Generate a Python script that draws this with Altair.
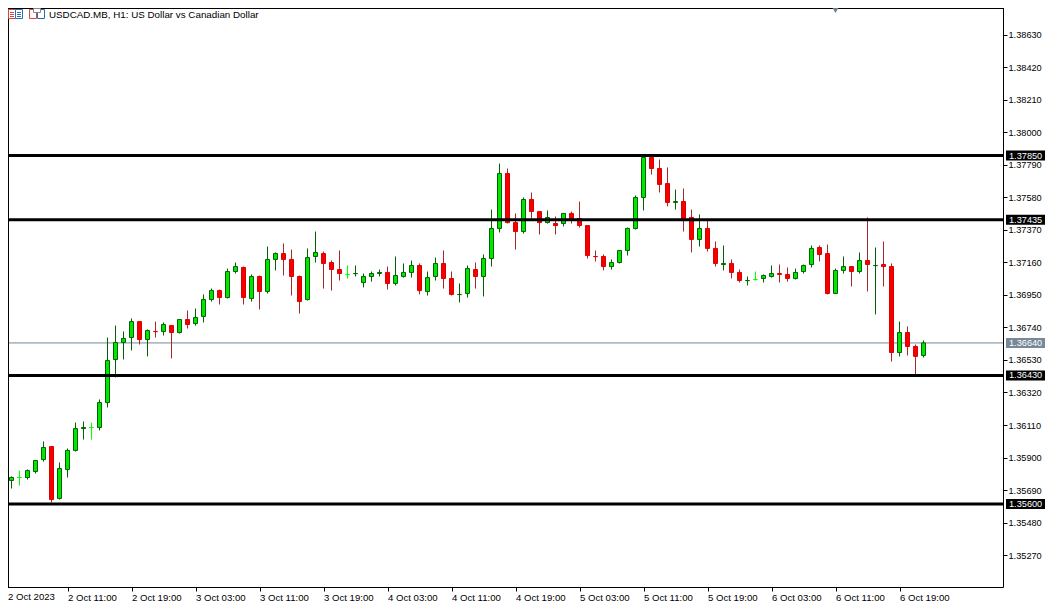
import altair as alt
import pandas as pd

opens = [1.35732,1.35752,1.35771,1.35771,1.35810,1.35887,1.35971,1.35636,1.35823,1.35946,1.36087,1.36094,1.36094,1.36255,1.36533,1.36643,1.36675,1.36778,1.36662,1.36714,
1.36714,1.36752,1.36707,1.36791,1.36765,1.36811,1.36920,1.36978,1.36933,1.37101,1.37127,1.36927,1.37069,1.36972,1.37179,1.37217,1.37179,1.37069,1.36920,1.37198,
1.37217,1.37159,1.37114,1.37082,1.37087,1.37030,1.37069,1.37088,1.37095,1.37024,1.37069,1.37095,1.37140,1.36972,1.37069,1.37153,1.37056,1.36952,1.36959,1.37114,
1.37069,1.37185,1.37379,1.37734,1.37417,1.37359,1.37566,1.37488,1.37417,1.37411,1.37411,1.37476,1.37443,1.37398,1.37198,1.37198,1.37133,1.37159,1.37237,1.37379,
1.37579,1.37837,1.37766,1.37669,1.37547,1.37553,1.37450,1.37308,1.37379,1.37250,1.37146,1.37153,1.37095,1.37042,1.37049,1.37056,1.37069,1.37088,1.37082,1.37056,
1.37101,1.37146,1.37256,1.37217,1.36959,1.37108,1.37133,1.37101,1.37172,1.37139,1.37146,1.37133,1.36578,1.36707,1.36617,1.36559]
highs = [1.35752,1.35778,1.35816,1.35823,1.35881,1.36004,1.35971,1.35868,1.35958,1.36126,1.36133,1.36126,1.36275,1.36675,1.36752,1.36714,1.36798,1.36778,1.36727,1.36778,
1.36772,1.36752,1.36791,1.36849,1.36862,1.36953,1.36991,1.36985,1.37120,1.37159,1.37133,1.37082,1.37075,1.37262,1.37224,1.37282,1.37243,1.37075,1.37250,1.37359,
1.37230,1.37172,1.37237,1.37140,1.37140,1.37088,1.37101,1.37114,1.37133,1.37198,1.37153,1.37172,1.37153,1.37101,1.37191,1.37237,1.37101,1.37024,1.37140,1.37159,
1.37211,1.37501,1.37798,1.37766,1.37476,1.37579,1.37611,1.37488,1.37495,1.37456,1.37476,1.37488,1.37553,1.37398,1.37237,1.37211,1.37179,1.37237,1.37385,1.37592,
1.37850,1.37850,1.37824,1.37773,1.37630,1.37637,1.37501,1.37469,1.37430,1.37295,1.37269,1.37179,1.37114,1.37069,1.37101,1.37082,1.37140,1.37146,1.37127,1.37120,
1.37146,1.37269,1.37269,1.37275,1.37120,1.37198,1.37133,1.37224,1.37450,1.37256,1.37295,1.37153,1.36778,1.36746,1.36630,1.36656]
lows = [1.35726,1.35700,1.35719,1.35758,1.35797,1.35874,1.35610,1.35629,1.35771,1.35939,1.36016,1.36016,1.36075,1.36223,1.36417,1.36533,1.36591,1.36630,1.36553,1.36675,
1.36688,1.36540,1.36701,1.36733,1.36752,1.36772,1.36907,1.36888,1.36927,1.37088,1.36888,1.36907,1.36856,1.36959,1.37108,1.37075,1.36946,1.36830,1.36914,1.37159,
1.36991,1.36978,1.37043,1.37056,1.37069,1.36998,1.37036,1.37069,1.36985,1.37011,1.37062,1.37062,1.36953,1.36946,1.37043,1.36991,1.36946,1.36901,1.36933,1.36991,
1.36940,1.37133,1.37353,1.37411,1.37243,1.37346,1.37443,1.37340,1.37411,1.37340,1.37392,1.37411,1.37385,1.37185,1.37166,1.37108,1.37114,1.37153,1.37204,1.37372,
1.37495,1.37727,1.37611,1.37521,1.37501,1.37359,1.37224,1.37262,1.37230,1.37133,1.37108,1.37056,1.37030,1.37011,1.37043,1.37030,1.37062,1.37030,1.37036,1.37049,
1.37088,1.37127,1.37166,1.36953,1.36959,1.37088,1.37004,1.37088,1.36972,1.36824,1.37004,1.36520,1.36553,1.36559,1.36436,1.36546]
closes = [1.35752,1.35771,1.35771,1.35816,1.35881,1.35965,1.35629,1.35829,1.35946,1.36087,1.36094,1.36094,1.36255,1.36527,1.36643,1.36669,1.36778,1.36662,1.36720,1.36713,
1.36759,1.36707,1.36791,1.36759,1.36804,1.36920,1.36978,1.36933,1.37101,1.37133,1.36933,1.37069,1.36972,1.37179,1.37217,1.37179,1.37069,1.36907,1.37191,1.37224,
1.37153,1.37114,1.37088,1.37082,1.37088,1.37069,1.37088,1.37095,1.37024,1.37075,1.37095,1.37140,1.36978,1.37062,1.37153,1.37056,1.36953,1.36953,1.37120,1.37069,
1.37185,1.37379,1.37734,1.37417,1.37359,1.37566,1.37488,1.37417,1.37450,1.37398,1.37476,1.37443,1.37398,1.37204,1.37197,1.37133,1.37159,1.37237,1.37379,1.37579,
1.37837,1.37766,1.37663,1.37547,1.37553,1.37443,1.37308,1.37379,1.37250,1.37153,1.37153,1.37095,1.37043,1.37043,1.37049,1.37075,1.37088,1.37082,1.37056,1.37095,
1.37140,1.37250,1.37211,1.36959,1.37108,1.37133,1.37101,1.37172,1.37146,1.37140,1.37133,1.36578,1.36707,1.36617,1.36553,1.36640]

y_ticks = [1.38630,1.38420,1.38210,1.38000,1.37790,1.37580,1.37370,1.37160,1.36950,1.36740,1.36530,1.36320,1.36110,1.35900,1.35690,1.35480,1.35270]
x_tick_bars = [8,16,24,32,40,48,56,64,72,80,88,96,104,112]
x_tick_labels = ["2 Oct 11:00","2 Oct 19:00","3 Oct 03:00","3 Oct 11:00","3 Oct 19:00","4 Oct 03:00","4 Oct 11:00","4 Oct 19:00","5 Oct 03:00","5 Oct 11:00","5 Oct 19:00","6 Oct 03:00","6 Oct 11:00","6 Oct 19:00"]
first_label = "2 Oct 2023"
title_text = "USDCAD.MB, H1:  US Dollar vs Canadian Dollar"
levels = [1.37850,1.37435,1.36430,1.35600]
last_price = 1.36640

FONT = "Liberation Sans"
W, H = 1000, 584
GREEN, DKGREEN, LIME = "#00E600", "#006400", "#00FF00"
RED, DKRED, BODYRED = "#F40000", "#A52A2A", "#E00000"

df = pd.DataFrame({"i": range(len(opens)), "o": opens, "h": highs, "l": lows, "c": closes})
df["top"] = df[["o", "c"]].max(axis=1)
df["bot"] = df[["o", "c"]].min(axis=1)
df["dir"] = ["up" if c > o else "down" if c < o else "flat" for o, c in zip(opens, closes)]

x_scale = alt.Scale(domain=[-0.0625, 124.9375], nice=False, zero=False, padding=0)
y_scale = alt.Scale(domain=[1.35064236, 1.3883454], nice=False, zero=False, padding=0)
dirs = ["up", "down", "flat"]
wick_scale = alt.Scale(domain=dirs, range=[DKGREEN, DKRED, LIME])
edge_scale = alt.Scale(domain=dirs, range=[DKGREEN, BODYRED, LIME])
fill_scale = alt.Scale(domain=dirs, range=[GREEN, RED, LIME])

label_map = "{" + ",".join(f"{b}:'{t}'" for b, t in zip(x_tick_bars, x_tick_labels)) + "}"
x_axis = alt.Axis(values=x_tick_bars, labelExpr=f"{label_map}[datum.value]", title=None, grid=False,
                  domain=False, tickColor="black", tickSize=4, labelColor="black", labelFont=FONT,
                  labelFontSize=9.6, labelAlign="left", labelPadding=1, labelOverlap=False,
                  labelBound=False, labelFlush=False)
y_axis = alt.Axis(values=y_ticks, format=".5f", orient="right", title=None, grid=False, domain=False,
                  tickColor="black", tickSize=4, labelColor="black", labelFont=FONT, labelFontSize=9.2,
                  labelPadding=1, labelOverlap=False, labelBound=False, labelFlush=False)

base = alt.Chart(df)
wicks = base.mark_rule(strokeWidth=1).encode(
    x=alt.X("i:Q", scale=x_scale, axis=x_axis),
    y=alt.Y("l:Q", scale=y_scale, axis=y_axis),
    y2="h:Q",
    color=alt.Color("dir:N", scale=wick_scale, legend=None),
)
bodies = base.mark_bar(size=4, strokeWidth=1, orient="vertical").encode(
    x=alt.X("i:Q", scale=x_scale, axis=x_axis),
    y=alt.Y("bot:Q", scale=y_scale, axis=y_axis),
    y2="top:Q",
    fill=alt.Fill("dir:N", scale=fill_scale, legend=None),
    stroke=alt.Stroke("dir:N", scale=edge_scale, legend=None),
)

lv = pd.DataFrame({"p": levels, "t": [f"{v:.5f}" for v in levels]})
last = pd.DataFrame({"p": [last_price], "t": [f"{last_price:.5f}"]})
yenc = alt.Y("p:Q", scale=y_scale, axis=y_axis)

price_line = alt.Chart(last).mark_rule(color="#778899", strokeWidth=1).encode(y=yenc)
level_lines = alt.Chart(lv).mark_rule(color="black", strokeWidth=3).encode(y=yenc)
tags = alt.Chart(lv).mark_rule(color="black", strokeWidth=10).encode(x=alt.value(1003), x2=alt.value(1042), y=yenc)
tag_text = alt.Chart(lv).mark_text(color="white", align="left", baseline="middle", font=FONT, fontSize=9.2).encode(
    x=alt.value(1006), y=yenc, text="t:N")
last_tag = alt.Chart(last).mark_rule(color="#778899", strokeWidth=10).encode(x=alt.value(1003), x2=alt.value(1042), y=yenc)
last_text = alt.Chart(last).mark_text(color="white", align="left", baseline="middle", font=FONT, fontSize=9.2).encode(
    x=alt.value(1006), y=yenc, text="t:N")

first_txt = alt.Chart(pd.DataFrame({"t": [first_label]})).mark_text(
    align="left", baseline="middle", font=FONT, fontSize=9.6, color="black").encode(
    x=alt.value(5), y=alt.value(594), text="t:N")
title_txt = alt.Chart(pd.DataFrame({"t": [title_text]})).mark_text(
    align="left", baseline="middle", font=FONT, fontSize=9.8, color="black").encode(
    x=alt.value(46), y=alt.value(11.5), text="t:N")

one = pd.DataFrame({"a": [0]})
def box(x0, x1, y0, y1, stroke, fill="white"):
    return alt.Chart(one).mark_rect(stroke=stroke, fill=fill, strokeWidth=1).encode(
        x=alt.value(x0), x2=alt.value(x1), y=alt.value(y0), y2=alt.value(y1))
def hline(x0, x1, y, color):
    return alt.Chart(one).mark_rule(color=color, strokeWidth=1).encode(
        x=alt.value(x0), x2=alt.value(x1), y=alt.value(y))

ICON_RED, ICON_BLUE = "#E0453A", "#2A6FB5"
icons = [box(5.5, 12.5, 6.5, 15.5, ICON_RED), box(12.5, 19.5, 6.5, 15.5, ICON_BLUE)]
icons += [hline(7, 11, yy, ICON_RED) for yy in (9.5, 11.5, 13.5)]
icons += [hline(14, 18, yy, ICON_BLUE) for yy in (9.5, 11.5, 13.5)]
icons += [box(26.5, 33.5, 6.5, 15.5, ICON_RED), box(34.5, 41.5, 6.5, 15.5, ICON_BLUE),
          box(30.5, 37.5, 5.5, 9.5, "#888888")]

triangle = alt.Chart(one).mark_point(shape="triangle-down", filled=True, size=50, color="#708090", opacity=1).encode(
    x=alt.value(832.5), y=alt.value(7))

frame_left = alt.Chart(one).mark_rule(color="black", strokeWidth=1).encode(
    x=alt.value(5.5), y=alt.value(5), y2=alt.value(584))
frame_top = alt.Chart(one).mark_rule(color="black", strokeWidth=1).encode(
    x=alt.value(5), x2=alt.value(1000), y=alt.value(5.5))

chart = alt.layer(
    price_line, wicks, bodies, level_lines, last_tag, last_text, tags, tag_text,
    first_txt, title_txt, frame_left, frame_top, triangle, *icons
).properties(
    width=W, height=H, autosize=alt.AutoSizeParams(type="none"),
    padding={"left": -5, "top": -5, "right": 46, "bottom": 16},
    background="white",
).configure_view(stroke="black", strokeWidth=1)

chart.save("out.html", embed_options={"renderer": "svg", "actions": False})
